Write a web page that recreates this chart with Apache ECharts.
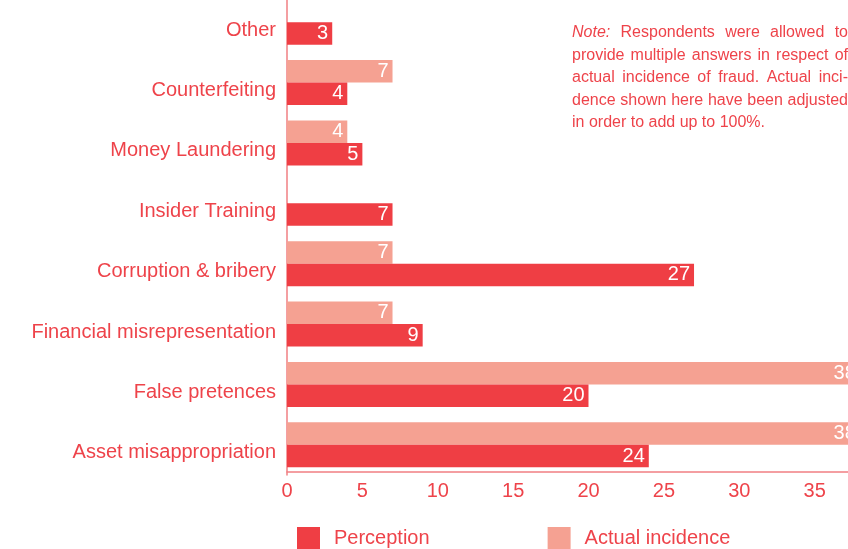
<!DOCTYPE html>
<html>
<head>
<meta charset="utf-8">
<script src="https://cdn.jsdelivr.net/npm/echarts@6/dist/echarts.min.js"></script>
<style>
  html, body { margin: 0; padding: 0; background: #fff; }
  #chart { width: 848px; height: 549px; }
</style>
</head>
<body>
<div id="chart"></div>
<script>
// categories bottom -> top, the way a category y axis counts them
const categories = [
  'Asset misappropriation',
  'False pretences',
  'Financial misrepresentation',
  'Corruption & bribery',
  'Insider Training',
  'Money Laundering',
  'Counterfeiting',
  'Other'
];
const perception = [24, 20, 9, 27, 7, 5, 4, 3];
const actualIncidence = [38, 38, 7, 7, null, 4, 7, null];
const xTicks = [0, 5, 10, 15, 20, 25, 30, 35, 40];
const noteLines = [
  'Note: Respondents were allowed to',
  'provide multiple answers in respect of',
  'actual incidence of fraud. Actual inci-',
  'dence shown here have been adjusted',
  'in order to add up to 100%.'
];

const RED = '#ef3e44';
const SALMON = '#f5a192';
const TEXT = '#ee434a';
const AXIS = '#f17f83';
const FONT = '"Liberation Sans", Arial, sans-serif';
const NOTE_FONT = '16px ' + FONT;

const chart = echarts.init(document.getElementById('chart'));

// note block is justified in the original, so lay it out word by word
function noteGraphics() {
  const ctx = document.createElement('canvas').getContext('2d');
  const left = 572, width = 276, top = 33, lh = 22.4;
  const out = [];
  noteLines.forEach(function (line, i) {
    const words = line.split(' ');
    const fonts = words.map(function (w, j) {
      return (i === 0 && j === 0) ? 'italic ' + NOTE_FONT : NOTE_FONT;
    });
    const widths = words.map(function (w, j) {
      ctx.font = fonts[j];
      return ctx.measureText(w).width;
    });
    ctx.font = NOTE_FONT;
    let gap = ctx.measureText(' ').width;
    const last = i === noteLines.length - 1;
    if (!last && words.length > 1) {
      const sum = widths.reduce(function (a, b) { return a + b; }, 0);
      gap = (width - sum) / (words.length - 1);
    }
    let x = left;
    words.forEach(function (w, j) {
      out.push({
        type: 'text',
        x: x,
        y: top + i * lh,
        silent: true,
        style: { text: w, font: fonts[j], fill: TEXT, verticalAlign: 'middle' }
      });
      x += widths[j] + gap;
    });
  });
  return out;
}

const barLabel = {
  show: true,
  position: 'insideRight',
  distance: 4,
  color: '#fff',
  fontSize: 20,
  fontFamily: FONT
};

const option = {
  animation: false,
  textStyle: { fontFamily: FONT },
  grid: {
    left: 287, width: 603, top: -8, height: 483,
    containLabel: false,
    outerBoundsMode: 'none'
  },
  xAxis: {
    type: 'value',
    min: xTicks[0],
    max: xTicks[xTicks.length - 1],
    interval: 5,
    offset: -3,
    axisLine: { show: true, lineStyle: { color: AXIS, width: 1.5 } },
    axisTick: { show: false },
    splitLine: { show: false },
    axisLabel: { color: TEXT, fontSize: 20, margin: 9, fontFamily: FONT }
  },
  yAxis: {
    type: 'category',
    data: categories,
    axisLine: { show: true, lineStyle: { color: AXIS, width: 1.5 } },
    axisTick: { show: false },
    axisLabel: {
      color: TEXT, fontSize: 20, margin: 11, fontFamily: FONT,
      verticalAlign: 'top', lineHeight: 16
    }
  },
  legend: {
    left: 292,
    top: 522,
    itemWidth: 23,
    itemHeight: 23,
    itemGap: 118,
    icon: 'rect',
    textStyle: { color: TEXT, fontSize: 20, fontFamily: FONT, padding: [0, 0, 0, 9] },
    data: ['Perception', 'Actual incidence']
  },
  // actual incidence listed first so it sits above perception in each pair
  series: [
    {
      name: 'Actual incidence',
      type: 'bar',
      data: actualIncidence,
      itemStyle: { color: SALMON },
      barGap: '0%',
      barCategoryGap: '25.5%',
      label: barLabel
    },
    {
      name: 'Perception',
      type: 'bar',
      data: perception,
      itemStyle: { color: RED },
      label: barLabel
    }
  ],
  graphic: noteGraphics()
};

chart.setOption(option);
window.addEventListener('resize', function () {
  chart.resize();
});
</script>
</body>
</html>
